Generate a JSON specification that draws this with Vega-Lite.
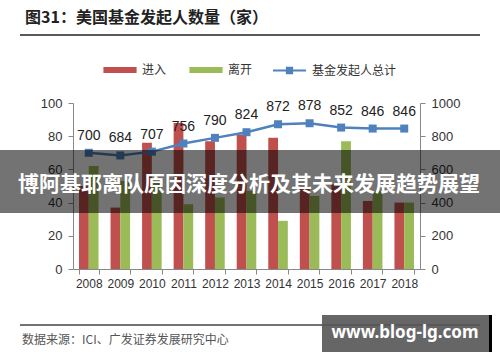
{
  "$schema": "https://vega.github.io/schema/vega-lite/v6.json",
  "width": 347,
  "height": 166,
  "autosize": {"type": "none"},
  "padding": {"left": 73, "top": 103, "right": 80, "bottom": 93},
  "background": "white",
  "config": {"view": {"stroke": null}, "font": "Liberation Sans"},
  "datasets": {
    "bars": [
      {"year": "2008", "type": "进入", "value": 50}, {"year": "2008", "type": "离开", "value": 62},
      {"year": "2009", "type": "进入", "value": 37}, {"year": "2009", "type": "离开", "value": 53},
      {"year": "2010", "type": "进入", "value": 76}, {"year": "2010", "type": "离开", "value": 53},
      {"year": "2011", "type": "进入", "value": 88}, {"year": "2011", "type": "离开", "value": 39},
      {"year": "2012", "type": "进入", "value": 77}, {"year": "2012", "type": "离开", "value": 43},
      {"year": "2013", "type": "进入", "value": 81}, {"year": "2013", "type": "离开", "value": 47},
      {"year": "2014", "type": "进入", "value": 79}, {"year": "2014", "type": "离开", "value": 29},
      {"year": "2015", "type": "进入", "value": 50}, {"year": "2015", "type": "离开", "value": 44},
      {"year": "2016", "type": "进入", "value": 51}, {"year": "2016", "type": "离开", "value": 77},
      {"year": "2017", "type": "进入", "value": 41}, {"year": "2017", "type": "离开", "value": 47},
      {"year": "2018", "type": "进入", "value": 40}, {"year": "2018", "type": "离开", "value": 40}
    ],
    "total": [
      {"year": "2008", "total": 700}, {"year": "2009", "total": 684}, {"year": "2010", "total": 707},
      {"year": "2011", "total": 756}, {"year": "2012", "total": 790}, {"year": "2013", "total": 824},
      {"year": "2014", "total": 872}, {"year": "2015", "total": 878}, {"year": "2016", "total": 852},
      {"year": "2017", "total": 846}, {"year": "2018", "total": 846}
    ]
  },
  "layer": [
    {
      "data": {"name": "bars"},
      "mark": {"type": "bar"},
      "encoding": {
        "x": {
          "field": "year", "type": "ordinal",
          "scale": {"paddingInner": 0.38, "paddingOuter": 0.19},
          "axis": {"title": null, "labelAngle": 0, "tickBand": "extent", "domainColor": "#888", "tickColor": "#888", "tickSize": 5, "labelFontSize": 12, "labelColor": "#333", "labelPadding": 4}
        },
        "xOffset": {"field": "type", "sort": ["进入", "离开"], "scale": {"paddingInner": 0, "paddingOuter": 0}},
        "y": {
          "field": "value", "type": "quantitative",
          "scale": {"domain": [0, 100]},
          "axis": {"title": null, "orient": "left", "values": [0, 20, 40, 60, 80, 100], "format": "d", "grid": false, "domainColor": "#888", "tickColor": "#888", "tickSize": 5, "labelFontSize": 13, "labelColor": "#333", "labelPadding": 6}
        },
        "fill": {
          "field": "type", "type": "nominal",
          "scale": {"domain": ["进入", "离开"], "range": ["#c0504d", "#9bbb59"]},
          "legend": {"orient": "none", "legendX": 30, "legendY": -50, "direction": "horizontal", "title": null,
            "symbolType": "M-1,-0.18L1,-0.18L1,0.18L-1,0.18Z", "symbolSize": 1100, "symbolStrokeWidth": 0,
            "labelFontSize": 12, "labelFont": "Noto Sans CJK SC", "labelColor": "#333", "columnPadding": 22, "labelOffset": 5}
        }
      }
    },
    {
      "data": {"name": "total"},
      "encoding": {
        "x": {"field": "year", "type": "ordinal"},
        "y": {
          "field": "total", "type": "quantitative",
          "scale": {"domain": [0, 1000]},
          "axis": {"title": null, "orient": "right", "values": [0, 200, 400, 600, 800, 1000], "format": "d", "grid": false, "domainColor": "#888", "tickColor": "#888", "tickSize": 5, "labelFontSize": 13, "labelColor": "#333", "labelPadding": 6}
        }
      },
      "layer": [
        {
          "mark": {"type": "line", "strokeWidth": 2.5},
          "encoding": {
            "stroke": {
              "datum": "基金发起人总计",
              "scale": {"range": ["#4f81bd"]},
              "legend": {"orient": "none", "legendX": 199, "legendY": -50, "direction": "horizontal", "title": null,
                "symbolType": "M-1,0L1,0M-0.16,-0.16L0.16,-0.16L0.16,0.16L-0.16,0.16Z", "symbolSize": 1089, "symbolStrokeWidth": 2,
                "symbolFillColor": "#4f81bd", "labelFontSize": 12, "labelFont": "Noto Sans CJK SC", "labelColor": "#333", "labelOffset": 5}
            }
          }
        },
        {
          "mark": {"type": "point", "shape": "square", "filled": true, "size": 64, "color": "#4f81bd", "opacity": 1},
          "encoding": {}
        },
        {
          "mark": {"type": "text", "fontSize": 14, "color": "#222", "baseline": "alphabetic", "dy": -13},
          "encoding": {"text": {"field": "total", "type": "quantitative"}}
        }
      ]
    },
    {
      "data": {"values": [{}]},
      "mark": {"type": "rect", "color": "#000", "opacity": 0.55},
      "encoding": {"x": {"value": -73}, "x2": {"value": 427}, "y": {"value": 47}, "y2": {"value": 110}}
    },
    {
      "data": {"values": [{"t": "博阿基耶离队原因深度分析及其未来发展趋势展望"}]},
      "mark": {"type": "text", "font": "Noto Sans CJK SC", "fontWeight": "bold", "fontSize": 21, "color": "white", "align": "center", "baseline": "middle"},
      "encoding": {"text": {"field": "t"}, "x": {"value": 176}, "y": {"value": 82}}
    },
    {
      "data": {"values": [{"t": "图31：美国基金发起人数量（家）"}]},
      "mark": {"type": "text", "font": "Noto Sans CJK SC", "fontWeight": "bold", "fontSize": 16, "color": "#222", "align": "left", "baseline": "middle"},
      "encoding": {"text": {"field": "t"}, "x": {"value": -48}, "y": {"value": -85}}
    },
    {
      "data": {"values": [{}]},
      "mark": {"type": "rule", "color": "#222", "strokeWidth": 1.5},
      "encoding": {"x": {"value": -53}, "x2": {"value": 407}, "y": {"value": -68}}
    },
    {
      "data": {"values": [{}]},
      "mark": {"type": "rule", "color": "#444", "strokeWidth": 1.5},
      "encoding": {"x": {"value": -53}, "x2": {"value": 407}, "y": {"value": 222}}
    },
    {
      "data": {"values": [{"t": "数据来源：ICI、广发证券发展研究中心"}]},
      "mark": {"type": "text", "font": "Noto Sans CJK SC", "fontSize": 12, "color": "#555", "align": "left", "baseline": "middle"},
      "encoding": {"text": {"field": "t"}, "x": {"value": -51}, "y": {"value": 237}}
    },
    {
      "data": {"values": [{}]},
      "mark": {"type": "rect", "color": "#555", "opacity": 0.9},
      "encoding": {"x": {"value": 249}, "x2": {"value": 416}, "y": {"value": 212}, "y2": {"value": 249}}
    },
    {
      "data": {"values": [{}]},
      "mark": {"type": "rect", "color": "#000"},
      "encoding": {"x": {"value": 416}, "x2": {"value": 419}, "y": {"value": 212}, "y2": {"value": 249}}
    },
    {
      "data": {"values": [{"t": "www.blog-lg.com"}]},
      "mark": {"type": "text", "font": "Noto Sans", "fontWeight": "bold", "fontSize": 17, "color": "white", "align": "center", "baseline": "middle"},
      "encoding": {"text": {"field": "t"}, "x": {"value": 332}, "y": {"value": 230}}
    }
  ],
  "resolve": {"scale": {"y": "independent", "x": "shared"}}
}
